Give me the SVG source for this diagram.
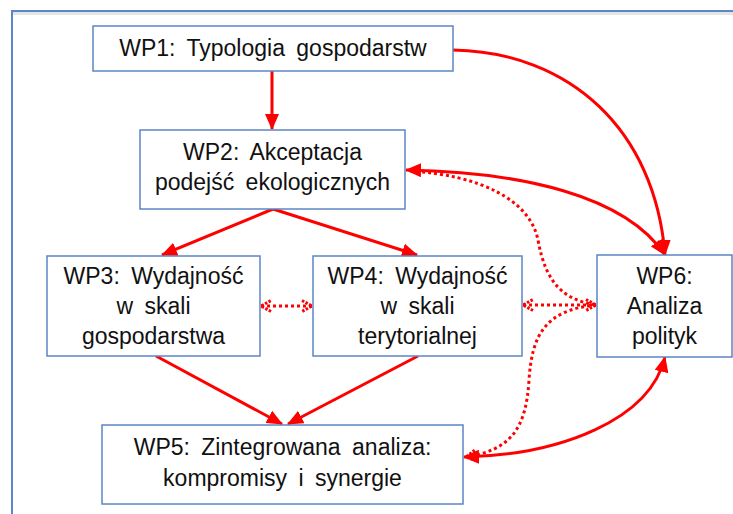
<svg xmlns="http://www.w3.org/2000/svg" width="733" height="514" viewBox="0 0 733 514">
<style>
.box{fill:#fff;stroke:#5b87c5;stroke-width:1.5}
.t{font-family:"Liberation Sans",Arial,sans-serif;font-size:23px;fill:#111;text-anchor:middle;word-spacing:5px}
.s{fill:none;stroke:#f00;stroke-width:3}
.d{fill:none;stroke:#f00;stroke-width:3;stroke-dasharray:3 3}
</style>
<defs>
<marker id="ah" viewBox="0 0 16 14" refX="15" refY="7" markerWidth="16" markerHeight="14" markerUnits="userSpaceOnUse" orient="auto-start-reverse">
<path d="M0,0 L16,7 L0,14 z" fill="#f00"/>
</marker>
<marker id="oh" viewBox="0 0 14 14" refX="12" refY="7" markerWidth="14" markerHeight="14" markerUnits="userSpaceOnUse" orient="auto-start-reverse">
<path d="M2,1.5 L12,7 L2,12.5" fill="none" stroke="#f00" stroke-width="3" stroke-dasharray="2.5 1.5"/>
</marker>
</defs>
<rect x="12" y="11" width="740" height="520" fill="none" stroke="#5b87c5" stroke-width="2"/>
<line x1="13" y1="13.5" x2="733" y2="13.5" stroke="#e4e4e4" stroke-width="3"/>
<g id="connectors">
<path class="s" d="M272,71 L272,129" marker-end="url(#ah)"/>
<path class="s" d="M273,209 L162,255" marker-end="url(#ah)"/>
<path class="s" d="M273,209 L417,255" marker-end="url(#ah)"/>
<path class="s" d="M156,356 L282,424" marker-end="url(#ah)"/>
<path class="s" d="M418,356 L288,424" marker-end="url(#ah)"/>
<path class="s" d="M453,50 C570,52 655,130 665,255" marker-end="url(#ah)"/>
<path class="s" d="M406,170 C520,172 625,195 665,255" marker-start="url(#ah)" marker-end="url(#ah)"/>
<path class="s" d="M464,457 C560,455 650,420 665,357" marker-start="url(#ah)" marker-end="url(#ah)"/>
<path class="d" d="M261,306 L312,306" marker-start="url(#oh)" marker-end="url(#oh)"/>
<path class="d" d="M523,305 L596,305" marker-start="url(#oh)" marker-end="url(#oh)"/>
<path class="d" d="M410,171 C480,175 530,200 538,240 C546,285 565,300 596,305"/>
<path class="d" d="M596,305 C545,310 532,335 529,380 C526,430 510,450 466,457" marker-end="url(#oh)"/>
</g>
<g id="wp1">
<rect class="box" x="93" y="26" width="360" height="45"/>
<text class="t" x="273" y="56">WP1: Typologia gospodarstw</text>
</g>
<g id="wp2">
<rect class="box" x="140" y="130" width="265" height="79"/>
<text class="t" x="272.5" y="160">WP2: Akceptacja</text>
<text class="t" x="272.5" y="190">podejść ekologicznych</text>
</g>
<g id="wp3">
<rect class="box" x="47" y="256" width="213" height="100"/>
<text class="t" x="153.5" y="284">WP3: Wydajność</text>
<text class="t" x="153.5" y="314">w skali</text>
<text class="t" x="153.5" y="344">gospodarstwa</text>
</g>
<g id="wp4">
<rect class="box" x="313" y="256" width="209" height="100"/>
<text class="t" x="417.5" y="284">WP4: Wydajność</text>
<text class="t" x="417.5" y="314">w skali</text>
<text class="t" x="417.5" y="344">terytorialnej</text>
</g>
<g id="wp6">
<rect class="box" x="597" y="255" width="135" height="102"/>
<text class="t" x="664.5" y="284">WP6:</text>
<text class="t" x="664.5" y="314">Analiza</text>
<text class="t" x="664.5" y="344">polityk</text>
</g>
<g id="wp5">
<rect class="box" x="102" y="425" width="361" height="79"/>
<text class="t" x="282.5" y="455">WP5: Zintegrowana analiza:</text>
<text class="t" x="282.5" y="486">kompromisy i synergie</text>
</g>
</svg>
